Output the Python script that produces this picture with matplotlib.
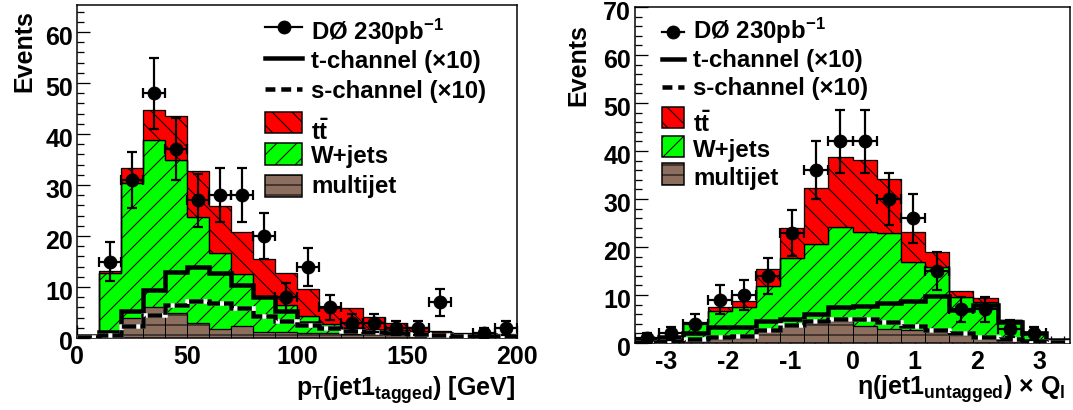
import numpy as np
import matplotlib
matplotlib.use('Agg')
import matplotlib.pyplot as plt
import matplotlib.transforms as mtrans
from matplotlib.patches import Rectangle
from matplotlib.lines import Line2D
from matplotlib.ticker import MultipleLocator

DPI = 60
W_PX, H_PX = 1073, 410


def pt(px):
    return px * 72.0 / DPI


def fx(px):
    return px / W_PX


def fy(py):
    return 1.0 - py / H_PX


plt.rcParams['font.family'] = ['Liberation Sans', 'DejaVu Sans']
plt.rcParams['font.weight'] = 'bold'
plt.rcParams['mathtext.fontset'] = 'custom'
plt.rcParams['mathtext.rm'] = 'Liberation Sans:bold'
plt.rcParams['mathtext.bf'] = 'Liberation Sans:bold'
plt.rcParams['mathtext.it'] = 'Liberation Sans:bold'
plt.rcParams['mathtext.sf'] = 'Liberation Sans:bold'
plt.rcParams['axes.unicode_minus'] = False
plt.rcParams['hatch.linewidth'] = pt(1.0)
plt.rcParams['hatch.color'] = 'black'

# ---------------- data: left panel, pT(jet1 tagged) ----------------
pt_range = (0.0, 200.0)
pt_nbins = 20
pt_data = [0, 15, 31, 48, 37, 27, 28, 28, 20, 8, 14, 6, 3, 3, 2, 2, 7, 0, 1, 2]
pt_multijet = [0.3, 0.5, 3.9, 6.0, 4.9, 2.9, 1.8, 2.3, 1.2, 1.1, 1.0, 0.9, 0.8, 0.7, 0.6, 0.5, 0.5, 0.4, 0.4, 0.3]
pt_wjets = [0.0, 12.2, 26.4, 32.9, 30.1, 20.8, 14.9, 10.3, 6.9, 5.3, 3.4, 1.9, 1.1, 0.8, 0.5, 0.4, 0.2, 0.2, 0.1, 0.1]
pt_ttbar = [0.0, 0.4, 3.0, 5.9, 8.5, 9.1, 9.1, 8.2, 7.4, 6.3, 5.3, 3.1, 3.9, 2.7, 1.8, 1.3, 0.7, 0.4, 0.3, 0.4]
pt_tchan = [0.3, 1.1, 5.2, 9.5, 13.0, 14.0, 12.8, 10.3, 8.0, 5.2, 2.9, 2.0, 1.7, 1.4, 1.2, 1.0, 0.8, 0.6, 0.5, 0.4]
pt_schan = [0.1, 0.5, 2.3, 4.5, 6.5, 7.3, 6.8, 5.9, 4.4, 3.4, 2.5, 1.9, 1.4, 1.1, 0.9, 0.7, 0.5, 0.4, 0.3, 0.3]
pt_ylim = (0, 65.3)
pt_xticks = [0, 50, 100, 150, 200]

# ---------------- data: right panel, eta(jet1 untagged) x Q ----------------
eta_range = (-3.5, 3.5)
eta_nbins = 18
eta_data = [1, 2, 4, 9, 10, 14, 23, 36, 42, 42, 30, 26, 15, 7, 7, 3, 2, 0]
eta_multijet = [0.2, 0.3, 0.4, 0.8, 1.0, 2.6, 3.7, 4.2, 4.6, 3.6, 3.0, 2.8, 2.2, 1.7, 1.0, 0.6, 0.4, 0.2]
eta_wjets = [0.4, 0.7, 3.8, 5.9, 6.5, 9.3, 14.1, 16.4, 19.5, 19.6, 20.0, 14.1, 13.7, 7.9, 7.6, 4.1, 1.8, 0.1]
eta_ttbar = [0.0, 0.1, 0.1, 0.9, 1.3, 3.5, 6.2, 11.6, 14.6, 14.9, 11.1, 6.3, 3.1, 1.3, 0.8, 0.1, 0.1, 0.0]
eta_tchan = [0.6, 1.3, 2.0, 3.3, 3.3, 4.6, 5.0, 6.0, 7.4, 7.7, 8.4, 8.8, 9.8, 6.9, 7.9, 4.4, 2.0, 0.7]
eta_schan = [0.3, 0.5, 0.8, 1.2, 1.4, 2.7, 3.7, 4.6, 5.0, 5.0, 4.4, 3.6, 2.8, 2.0, 1.3, 0.8, 0.4, 0.2]
eta_ylim = (0, 70)
eta_xticks = [-3, -2, -1, 0, 1, 2, 3]

# ---------------- labels ----------------
lbl_data = r'DØ 230pb$^{\mathbf{-1}}$'
lbl_t = 't-channel (×10)'
lbl_s = 's-channel (×10)'
lbl_tt = r'$\mathbf{t\bar{t}}$'
lbl_w = 'W+jets'
lbl_mj = 'multijet'
ylabel = 'Events'
xlabel_left = r'p$_{\mathbf{T}}$(jet1$_{\mathbf{tagged}}$) [GeV]'
xlabel_right = r'$\eta$(jet1$_{\mathbf{untagged}}$) $\times$ Q$_{\mathbf{l}}$'

RED = '#ff0000'
GREEN = '#00ff00'
BROWN = '#8c6e5f'

fig = plt.figure(figsize=(W_PX / DPI, H_PX / DPI), dpi=DPI)


def draw_panel(ax, rng, nbins, data, mj, wj, tt, tch, sch, ylim, xticks, xminor):
    edges = np.linspace(rng[0], rng[1], nbins + 1)
    centers = 0.5 * (edges[1:] + edges[:-1])
    bw = edges[1] - edges[0]
    mj = np.asarray(mj, float)
    wj = np.asarray(wj, float)
    tt = np.asarray(tt, float)
    data = np.asarray(data, float)
    top_w = mj + wj
    top_t = top_w + tt

    ax.bar(centers, mj, width=bw, bottom=0, color=BROWN, edgecolor='black',
           linewidth=pt(1.0), hatch='-', zorder=2)
    ax.stairs(top_w, edges, baseline=mj, fill=True, facecolor=GREEN, edgecolor='black',
              linewidth=pt(1.3), hatch='/', zorder=2)
    ax.stairs(top_t, edges, baseline=top_w, fill=True, facecolor=RED, edgecolor='black',
              linewidth=pt(1.3), hatch='\\', zorder=2)

    ax.stairs(tch, edges, baseline=None, color='black', linewidth=pt(4.5), zorder=3)
    ax.stairs(sch, edges, baseline=None, color='white', linewidth=pt(4.5), zorder=3)
    ax.stairs(sch, edges, baseline=None, color='black', linewidth=pt(4.5),
              linestyle=(0, (3.2, 0.9)), zorder=3)

    m = data > 0
    ax.errorbar(centers[m], data[m], xerr=bw / 2, yerr=np.sqrt(data[m]), fmt='o',
                color='black', ms=pt(13), elinewidth=pt(2.2), capsize=pt(5),
                capthick=pt(2.2), zorder=5)

    ax.set_xlim(rng)
    ax.set_ylim(ylim)
    ax.set_xticks(xticks)
    ax.xaxis.set_minor_locator(MultipleLocator(xminor))
    ax.yaxis.set_major_locator(MultipleLocator(10))
    ax.yaxis.set_minor_locator(MultipleLocator(2))
    ax.tick_params(which='both', direction='in', top=False, right=False, width=pt(1.3))
    ax.tick_params(which='major', length=pt(13), labelsize=pt(25))
    ax.tick_params(which='minor', length=pt(7))
    ax.tick_params(axis='y', pad=pt(4))
    ax.tick_params(axis='x', pad=pt(7))
    off = mtrans.ScaledTranslation(0, -3.0 / DPI, fig.dpi_scale_trans)
    for lab in ax.get_yticklabels():
        lab.set_transform(lab.get_transform() + off)
    for lab in ax.get_xticklabels() + ax.get_yticklabels():
        lab.set_fontweight('bold')
    for s in ax.spines.values():
        s.set_linewidth(pt(1.5))


ax1 = fig.add_axes([fx(77), fy(338), fx(517) - fx(77), fy(5) - fy(338)])
draw_panel(ax1, pt_range, pt_nbins, pt_data, pt_multijet, pt_wjets, pt_ttbar,
           pt_tchan, pt_schan, pt_ylim, pt_xticks, 10)

ax2 = fig.add_axes([fx(635), fy(343), fx(1070) - fx(635), fy(7) - fy(343)])
draw_panel(ax2, eta_range, eta_nbins, eta_data, eta_multijet, eta_wjets, eta_ttbar,
           eta_tchan, eta_schan, eta_ylim, eta_xticks, 0.2)

# ---------------- axis titles ----------------
fig.text(fx(24), fy(10), ylabel, rotation=90, ha='center', va='top',
         fontsize=pt(25), fontweight='bold')
fig.text(fx(578), fy(24), ylabel, rotation=90, ha='center', va='top',
         fontsize=pt(25), fontweight='bold')
fig.text(fx(515), fy(396), xlabel_left, ha='right', va='baseline',
         fontsize=pt(25), fontweight='bold')
fig.text(fx(857), fy(395), xlabel_right, ha='left', va='baseline',
         fontsize=pt(25), fontweight='bold')


# ---------------- legends (drawn manually, ROOT style) ----------------
def legend(x0, x1, rows, fs):
    tx = x1 + 9
    for kind, sy, btop, bbot, tb, label in rows:
        if kind == 'data':
            fig.add_artist(Line2D([fx(x0), fx(x1)], [fy(sy), fy(sy)], color='black',
                                  linewidth=pt(2.2), transform=fig.transFigure))
            fig.add_artist(Line2D([fx((x0 + x1) / 2)], [fy(sy)], marker='o', ms=pt(13),
                                  color='black', transform=fig.transFigure))
        elif kind == 'solid':
            fig.add_artist(Line2D([fx(x0), fx(x1)], [fy(sy), fy(sy)], color='black',
                                  linewidth=pt(4.5), transform=fig.transFigure))
        elif kind == 'dash':
            fig.add_artist(Line2D([fx(x0), fx(x1)], [fy(sy), fy(sy)], color='black',
                                  linewidth=pt(4.5), linestyle=(0, (2.2, 1.3)),
                                  transform=fig.transFigure))
        else:
            fc, h = kind
            fig.add_artist(Rectangle((fx(x0), fy(bbot)), fx(x1) - fx(x0), fy(btop) - fy(bbot),
                                     facecolor=fc, edgecolor='black', hatch=h,
                                     linewidth=pt(1.5), transform=fig.transFigure))
        fig.text(fx(tx), fy(tb), label, ha='left', va='baseline', fontsize=pt(fs),
                 fontweight='bold')


legend(265, 302, [
    ('data', 27, 0, 0, 40, lbl_data),
    ('solid', 58, 0, 0, 68, lbl_t),
    ('dash', 89, 0, 0, 98, lbl_s),
    ((RED, '\\'), 0, 112, 133, 140, lbl_tt),
    ((GREEN, '/'), 0, 143, 165, 163, lbl_w),
    ((BROWN, '-'), 0, 175, 197, 193, lbl_mj),
], 24)

legend(662, 684, [
    ('data', 32, 0, 0, 39, lbl_data),
    ('solid', 59, 0, 0, 67, lbl_t),
    ('dash', 87, 0, 0, 95, lbl_s),
    ((RED, '\\'), 0, 107, 128, 132, lbl_tt),
    ((GREEN, '/'), 0, 136, 157, 157, lbl_w),
    ((BROWN, '-'), 0, 163, 185, 185, lbl_mj),
], 24)

fig.savefig('out.png', dpi=DPI)
